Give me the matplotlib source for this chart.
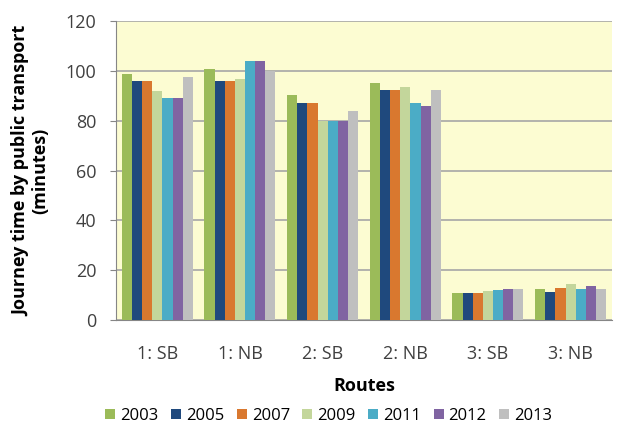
import matplotlib
matplotlib.use("Agg")
import matplotlib.pyplot as plt
import numpy as np

routes = ["1: SB", "1: NB", "2: SB", "2: NB", "3: SB", "3: NB"]
years = ["2003", "2005", "2007", "2009", "2011", "2012", "2013"]
v2003 = [99, 101, 90.5, 95, 11, 12.5]
v2005 = [96, 96, 87, 92.5, 11, 11.3]
v2007 = [96, 96, 87, 92.5, 11, 12.8]
v2009 = [92, 97, 80, 93.5, 11.5, 14.5]
v2011 = [89, 104, 80, 87, 12, 12.5]
v2012 = [89, 104, 80, 86, 12.5, 13.5]
v2013 = [97.5, 100, 84, 92.5, 12.5, 12.5]
series = [v2003, v2005, v2007, v2009, v2011, v2012, v2013]
colors = ["#9BBB59", "#1F497D", "#D9782F", "#C3D69B", "#4BACC6", "#8064A2", "#BFBFBF"]

plt.rcParams['font.family'] = ['Open Sans', 'DejaVu Sans']

fig = plt.figure(figsize=(6.2, 4.25), dpi=100)
ax = fig.add_axes([0.187, 0.247, 0.80, 0.703])
ax.set_facecolor("#FCFCD2")

x = np.arange(len(routes))
n = len(series)
w = 0.86 / n
for i, (vals, c, lab) in enumerate(zip(series, colors, years)):
    ax.bar(x - 0.43 + w * (i + 0.5), vals, width=w, color=c, label=lab, zorder=3)

ax.set_ylim(0, 120)
ax.set_xlim(-0.5, len(routes) - 0.5)
ax.set_yticks(range(0, 121, 20))
ax.yaxis.grid(True, color="#A6A6A6", linewidth=1.2, zorder=0)
ax.set_xticks(x)
ax.set_xticklabels(routes)
ax.tick_params(axis='both', labelsize=13, colors="#404040", length=4, color="#868686")
ax.tick_params(axis='y', pad=10)
ax.tick_params(axis='x', length=0, pad=18)
for s in ["top", "right"]:
    ax.spines[s].set_visible(False)
ax.spines["left"].set_color("#868686")
ax.spines["bottom"].set_color("#868686")

ax.set_ylabel("Journey time by public transport\n(minutes)", fontsize=13, fontweight="bold",
              linespacing=1.05, labelpad=12)
ax.set_xlabel("Routes", fontsize=13, fontweight="bold", labelpad=10)

fig.legend(loc="lower center", ncol=7, bbox_to_anchor=(0.53, -0.033), frameon=False,
           fontsize=12, handlelength=0.6, handleheight=0.6, handletextpad=0.3, columnspacing=0.75)

fig.savefig("out.png", dpi=100)
